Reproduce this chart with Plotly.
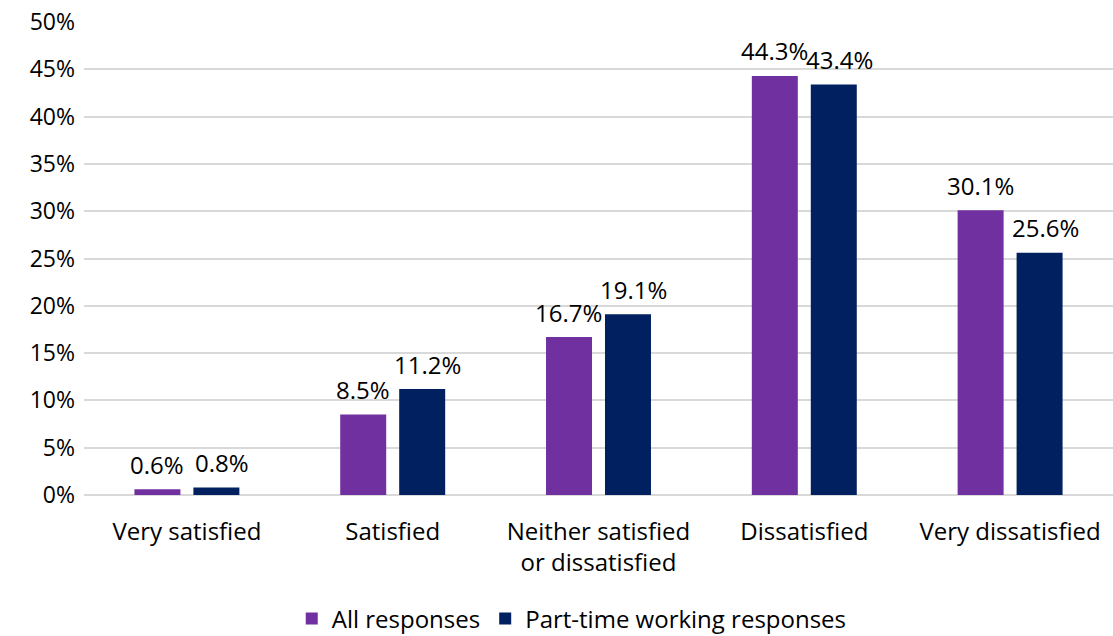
import plotly.graph_objects as go

categories = ["Very satisfied", "Satisfied", "Neither satisfied<br>or dissatisfied",
              "Dissatisfied", "Very dissatisfied"]
all_responses = [0.6, 8.5, 16.7, 44.3, 30.1]
part_time = [0.8, 11.2, 19.1, 43.4, 25.6]

FONT = "Open Sans"
FS = 23
# (legend name, values, colour, horizontal label offset in px)
series = [("All responses", all_responses, "#7030A0", -30),
          ("Part-time working responses", part_time, "#002060", 35)]

fig = go.Figure()
for name, vals, color, dx in series:
    fig.add_bar(name=name, x=categories, y=vals, marker_color=color,
                marker_line_width=0, showlegend=False)
    for cat, v in zip(categories, vals):
        fig.add_annotation(x=cat, y=v, text=f"{v:.1f}%", showarrow=False,
                           xshift=dx, yshift=25, yanchor="middle",
                           font=dict(family=FONT, size=24, color="#000000"))

# legend entries with larger square swatches
for name, vals, color, dx in series:
    fig.add_scatter(x=[None], y=[None], mode="markers", name=name,
                    marker=dict(symbol="square", size=16, color=color))

fig.update_layout(
    width=1113, height=636,
    margin=dict(l=84, r=0, t=22, b=141, autoexpand=False),
    paper_bgcolor="white", plot_bgcolor="white",
    barmode="group", bargap=0.427, bargroupgap=0.22,
    font=dict(family=FONT, size=FS, color="#000000"),
    showlegend=True,
    legend=dict(orientation="h", x=0.474, xanchor="center", y=-0.262,
                yanchor="middle", font=dict(size=24), itemsizing="constant",
                itemwidth=30),
    xaxis=dict(showgrid=False, ticks="", showline=False, automargin=False,
               ticklabelstandoff=20, tickfont=dict(size=24)),
    yaxis=dict(range=[0, 50], dtick=5, ticksuffix="%", showgrid=True,
               gridcolor="#D9D9D9", gridwidth=1.5, zeroline=True,
               zerolinecolor="#D9D9D9", zerolinewidth=1.5, ticks="",
               showline=False, automargin=False, ticklabelstandoff=8),
)
fig.write_html("out.html")
